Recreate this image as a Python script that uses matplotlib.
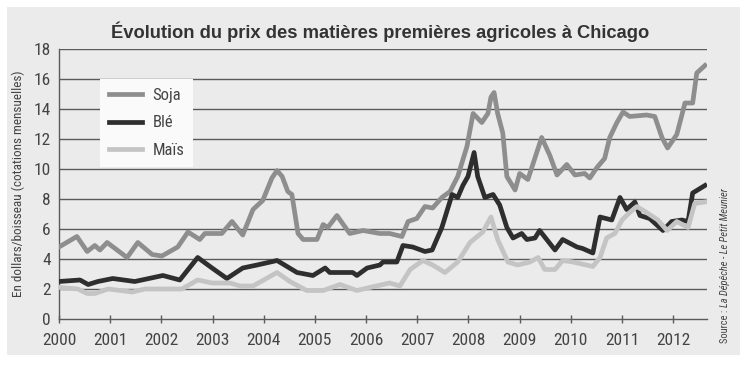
import matplotlib
matplotlib.use("Agg")
import matplotlib.pyplot as plt
from matplotlib.patches import Rectangle
from matplotlib import font_manager

# Monthly quotations (dollars per bushel)
soja_years = [2000.00, 2000.35, 2000.55, 2000.70, 2000.80, 2000.94, 2001.33, 2001.54,
              2001.82, 2002.01, 2002.32, 2002.52, 2002.75, 2002.85, 2003.18, 2003.38,
              2003.59, 2003.79, 2003.98, 2004.16, 2004.26, 2004.36, 2004.47, 2004.55,
              2004.67, 2004.77, 2005.04, 2005.16, 2005.25, 2005.43, 2005.68, 2005.94,
              2006.27, 2006.46, 2006.70, 2006.82, 2006.99, 2007.15, 2007.30, 2007.48,
              2007.64, 2007.79, 2007.97, 2008.09, 2008.26, 2008.38, 2008.44, 2008.50,
              2008.57, 2008.67, 2008.75, 2008.91, 2009.00, 2009.16, 2009.43, 2009.59,
              2009.73, 2009.92, 2010.08, 2010.27, 2010.37, 2010.51, 2010.66, 2010.76,
              2010.90, 2011.02, 2011.15, 2011.48, 2011.64, 2011.78, 2011.89, 2012.07,
              2012.23, 2012.38, 2012.46, 2012.62]
soja = [4.8, 5.5, 4.5, 4.9, 4.6, 5.1, 4.1, 5.1,
        4.3, 4.2, 4.8, 5.8, 5.3, 5.7, 5.7, 6.5,
        5.6, 7.3, 7.9, 9.4, 9.9, 9.5, 8.5, 8.3,
        5.7, 5.3, 5.3, 6.3, 6.1, 6.9, 5.7, 5.9,
        5.7, 5.7, 5.5, 6.5, 6.7, 7.5, 7.4, 8.1,
        8.5, 9.5, 11.5, 13.7, 13.1, 13.7, 14.8, 15.1,
        13.7, 12.4, 9.5, 8.6, 9.7, 9.3, 12.1, 10.9,
        9.6, 10.3, 9.6, 9.7, 9.4, 10.1, 10.7, 12.1,
        13.1, 13.8, 13.5, 13.6, 13.5, 12.1, 11.4, 12.3,
        14.4, 14.4, 16.4, 16.9]

ble_years = [2000.00, 2000.41, 2000.57, 2000.76, 2001.05, 2001.48, 2002.03, 2002.36,
             2002.71, 2002.99, 2003.28, 2003.59, 2003.87, 2004.26, 2004.65, 2004.96,
             2005.20, 2005.29, 2005.74, 2005.82, 2006.02, 2006.27, 2006.33, 2006.60,
             2006.72, 2006.91, 2007.15, 2007.29, 2007.48, 2007.68, 2007.79, 2007.89,
             2007.99, 2008.11, 2008.18, 2008.32, 2008.48, 2008.61, 2008.75, 2008.87,
             2009.04, 2009.14, 2009.30, 2009.39, 2009.69, 2009.84, 2010.12, 2010.23,
             2010.43, 2010.57, 2010.80, 2010.96, 2011.09, 2011.25, 2011.35, 2011.54,
             2011.80, 2011.97, 2012.17, 2012.29, 2012.38, 2012.62]
ble = [2.5, 2.6, 2.3, 2.5, 2.7, 2.5, 2.9, 2.6,
       4.1, 3.4, 2.7, 3.4, 3.6, 3.9, 3.1, 2.9,
       3.4, 3.1, 3.1, 2.9, 3.4, 3.6, 3.8, 3.8,
       4.9, 4.8, 4.5, 4.6, 6.1, 8.3, 8.1, 8.9,
       9.5, 11.1, 9.5, 8.1, 8.3, 7.6, 6.1, 5.4,
       5.7, 5.3, 5.4, 5.9, 4.6, 5.3, 4.8, 4.7,
       4.4, 6.8, 6.6, 8.1, 7.3, 7.8, 6.9, 6.7,
       5.9, 6.5, 6.6, 6.5, 8.4, 8.9]

mais_years = [2000.02, 2000.37, 2000.55, 2000.70, 2000.96, 2001.43, 2001.68, 2002.40,
              2002.71, 2002.99, 2003.34, 2003.54, 2003.79, 2004.26, 2004.51, 2004.84,
              2005.16, 2005.49, 2005.82, 2006.07, 2006.46, 2006.66, 2006.86, 2007.11,
              2007.30, 2007.54, 2007.79, 2008.03, 2008.28, 2008.44, 2008.57, 2008.77,
              2008.96, 2009.20, 2009.36, 2009.49, 2009.69, 2009.84, 2010.04, 2010.43,
              2010.57, 2010.70, 2010.86, 2011.00, 2011.15, 2011.29, 2011.48, 2011.70,
              2011.88, 2012.07, 2012.29, 2012.42, 2012.62]
mais = [2.1, 2.0, 1.7, 1.7, 2.0, 1.8, 2.0, 2.0,
        2.6, 2.4, 2.4, 2.2, 2.2, 3.1, 2.5, 1.9,
        1.9, 2.3, 1.9, 2.1, 2.4, 2.2, 3.3, 3.9,
        3.6, 3.1, 3.8, 5.1, 5.8, 6.8, 5.3, 3.8,
        3.6, 3.8, 4.1, 3.3, 3.3, 3.9, 3.8, 3.5,
        4.1, 5.4, 5.7, 6.6, 7.1, 7.5, 7.1, 6.6,
        5.9, 6.5, 6.1, 7.7, 7.8]

year_ticks = list(range(2000, 2013))
value_ticks = list(range(0, 19, 2))

installed = {f.name for f in font_manager.fontManager.ttflist}
NARROW = [f for f in ["Liberation Sans Narrow", "Roboto Condensed", "Liberation Sans"]
          if f in installed] + ["DejaVu Sans"]
plt.rcParams["font.family"] = NARROW
TEXT = "#444444"
GRID = "#5a5a5a"
LW = 3.4

fig = plt.figure(figsize=(7.47, 3.65), dpi=100)
fig.patches.append(Rectangle((7 / 747, 1 - 355 / 365), 733 / 747, 348 / 365,
                             transform=fig.transFigure, facecolor="#ebebeb",
                             edgecolor="none", zorder=-10))

ax = fig.add_axes([59 / 747, 1 - 319 / 365, 648 / 747, 270 / 365])
ax.set_facecolor("none")

ax.plot(soja_years, soja, color="#8e8e8e", lw=LW, label="Soja", zorder=3,
        solid_joinstyle="round")
ax.plot(ble_years, ble, color="#2e2e2e", lw=LW, label="Blé", zorder=4,
        solid_joinstyle="round")
ax.plot(mais_years, mais, color="#c4c4c4", lw=LW, label="Maïs", zorder=5,
        solid_joinstyle="round")

ax.set_xlim(2000, 2012.66)
ax.set_ylim(0, 18)
ax.set_xticks(year_ticks)
ax.set_yticks(value_ticks)
ax.tick_params(axis="x", direction="inout", length=6, width=1, color=GRID,
               labelsize=12.5, labelcolor=TEXT, pad=7)
ax.tick_params(axis="y", length=0, labelsize=12.5, labelcolor=TEXT, pad=6)
for v in value_ticks[1:]:
    ax.axhline(v, color=GRID, lw=1, zorder=1)
for side in ["top", "right"]:
    ax.spines[side].set_visible(False)
for side in ["left", "bottom"]:
    ax.spines[side].set_color(GRID)
    ax.spines[side].set_linewidth(1)

ax.set_ylabel("En dollars/boisseau (cotations mensuelles)", fontsize=9.5,
              color=TEXT, labelpad=6)

leg = ax.legend(loc="upper left", bbox_to_anchor=(0.063, 0.89), borderaxespad=0,
                fontsize=12, frameon=True, fancybox=False, handlelength=2.0,
                handletextpad=0.6, labelspacing=0.75, borderpad=0.55)
leg.get_frame().set_facecolor("#fafafa")
leg.get_frame().set_edgecolor("none")
leg.get_frame().set_alpha(1)
leg.set_zorder(6)
for t in leg.get_texts():
    t.set_color(TEXT)

fig.text(380 / 747, 1 - 32 / 365,
         "Évolution du prix des matières premières agricoles à Chicago",
         ha="center", va="center", fontsize=13.2, fontweight="bold",
         color="#333333", family=["Liberation Sans", "DejaVu Sans"])

# source note: upright "Source :" then italic names, reading upwards
src_x = 725 / 747
src1 = fig.text(src_x, 1 - 343 / 365, "Source : ", rotation=90, ha="center",
                va="bottom", fontsize=7.5, color=TEXT)
fig.canvas.draw()
bb = src1.get_window_extent()
fig.text(src_x, bb.y1 / fig.bbox.height, "La Dépêche - Le Petit Meunier",
         rotation=90, ha="center", va="bottom", fontsize=7.5, color=TEXT,
         style="italic")

fig.savefig("out.png", dpi=100)
